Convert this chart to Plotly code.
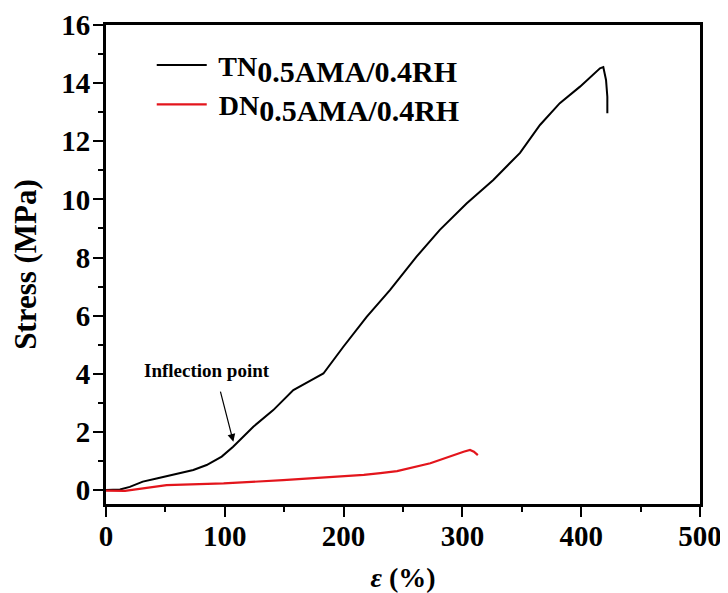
import plotly.graph_objects as go

# TN curve (black)
tn_strain = [0, 11.8, 20, 31, 42.6, 56.6, 73.5, 84.7, 97.4, 107, 124, 140.8, 157.7, 171.7, 183,
             199.8, 219.4, 239, 261.4, 281, 303.5, 326, 348.5, 365.3, 382, 399, 415.8, 418.6,
             420.9, 422, 422]
tn_stress = [0, 0.02, 0.11, 0.29, 0.40, 0.52, 0.69, 0.86, 1.15, 1.49, 2.18, 2.75, 3.44, 3.76, 4.01,
             4.93, 5.96, 6.88, 8.03, 8.95, 9.86, 10.67, 11.6, 12.56, 13.31, 13.88, 14.51, 14.55,
             14.11, 13.53, 12.96]

# DN curve (red)
dn_strain = [0, 16, 51, 99, 149, 197, 217, 231, 245, 273, 290, 301, 306.4, 309.7, 313]
dn_stress = [-0.02, -0.03, 0.17, 0.23, 0.34, 0.46, 0.52, 0.58, 0.65, 0.92, 1.17, 1.32, 1.38, 1.32, 1.2]

x_ticks = [0, 100, 200, 300, 400, 500]
y_ticks = [0, 2, 4, 6, 8, 10, 12, 14, 16]

names = ["TN", "DN"]
sub_label = "0.5AMA/0.4RH"

FONT = "Liberation Serif"

fig = go.Figure()
fig.add_trace(go.Scatter(
    x=tn_strain, y=tn_stress, mode="lines",
    line=dict(color="black", width=2),
    name=" " + names[0] + "<sub><span style='font-size:30px'>" + sub_label + "</span></sub>",
))
fig.add_trace(go.Scatter(
    x=dn_strain, y=dn_stress, mode="lines",
    line=dict(color="#e3151c", width=2.2),
    name=" " + names[1] + "<sub><span style='font-size:30px'>" + sub_label + "</span></sub>",
))

# Inflection point annotation
fig.add_annotation(
    x=107.2, y=1.66, ax=96, ay=3.44, axref="x", ayref="y", xref="x", yref="y",
    text="", showarrow=True, arrowhead=2, arrowsize=1.3, arrowwidth=1.2, arrowcolor="black",
)
fig.add_annotation(
    x=85.4, y=4.1, xref="x", yref="y", text="Inflection point", showarrow=False,
    font=dict(family=FONT, size=19, color="black", weight="bold"),
)

axis_common = dict(
    showline=True, linecolor="black", linewidth=3, mirror=True,
    ticks="outside", tickwidth=2, ticklen=10, tickcolor="black",
    showgrid=False, zeroline=False, automargin=False,
    tickfont=dict(family=FONT, size=29, color="black", weight="bold"),
)

fig.update_xaxes(
    range=[0, 500], tickvals=x_ticks, ticktext=[str(v) for v in x_ticks],
    minor=dict(ticks="outside", ticklen=5, tickwidth=2, tickcolor="black", dtick=50, tick0=0),
    ticklabelstandoff=-6,
    title=dict(text="<i>ε</i> (%)", font=dict(family=FONT, size=28, color="black", weight="bold"),
               standoff=24),
    **axis_common,
)
fig.update_yaxes(
    range=[-0.48, 16], tickvals=y_ticks, ticktext=[str(v) for v in y_ticks],
    minor=dict(ticks="outside", ticklen=5, tickwidth=2, tickcolor="black", dtick=1, tick0=0),
    ticklabelstandoff=-3,
    title=dict(text="Stress (MPa)", font=dict(family=FONT, size=31, color="black", weight="bold"),
               standoff=16),
    **axis_common,
)

# page body has an 8px default margin, so the figure is sized to fit the window
fig.update_layout(
    width=720, height=585,
    margin=dict(l=98, r=28, t=17, b=89),
    plot_bgcolor="white", paper_bgcolor="white",
    font=dict(family=FONT, color="black"),
    showlegend=True,
    legend=dict(
        x=0.077, y=0.968, xanchor="left", yanchor="top",
        bgcolor="rgba(0,0,0,0)", borderwidth=0,
        font=dict(family=FONT, size=28, color="black", weight="bold"),
        itemwidth=50, tracegroupgap=0,
    ),
)

fig.write_html("out.html")
